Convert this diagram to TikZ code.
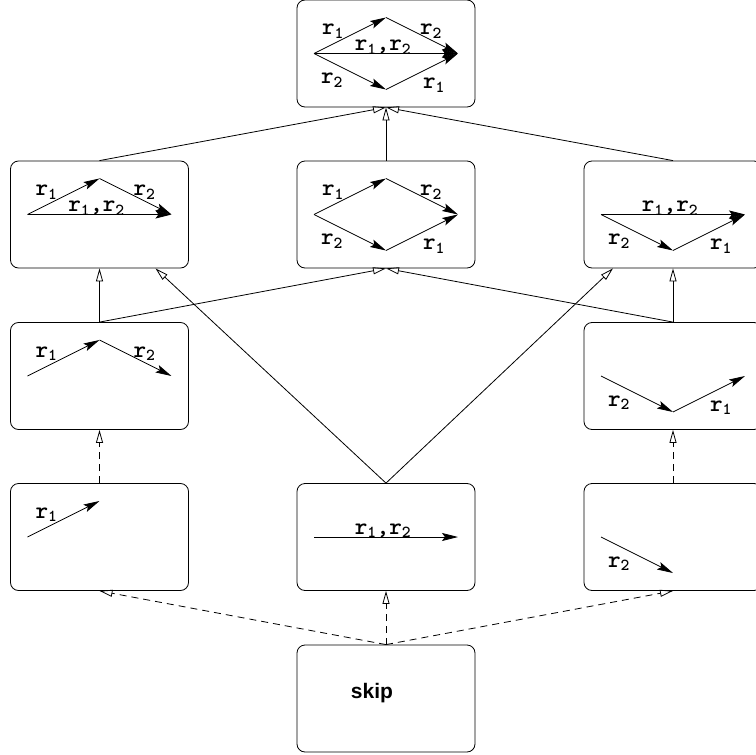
\documentclass[tikz,border=0pt]{standalone}
\usepackage{fontspec}
\usepackage{tikz}
\usetikzlibrary{arrows.meta,calc}
\setsansfont{Liberation Sans}
\newcommand{\rlab}[1]{r\textsubscript{#1}}

\begin{document}
\begin{tikzpicture}[x=1pt,y=-1pt,
    box/.style={draw, rounded corners=8pt, minimum width=178pt, minimum height=107pt, inner sep=0pt, line width=0.8pt},
    vec/.style={line width=0.8pt, -{Stealth[length=16pt,width=8pt,inset=3pt]}},
    up/.style={line width=0.8pt, -{Triangle[open,length=13pt,width=7pt]}},
    dashline/.style={dash pattern=on 7pt off 5pt},
    lbl/.style={font={\ttfamily\bfseries\addfontfeatures{FakeBold=1.5}\fontsize{24}{26}\selectfont}, anchor=base, inner sep=0pt}]
    \useasboundingbox (0,0) rectangle (756,755);

    % Boxes of the lattice
    \node[box] (top) at (386,53.5) {};
    \node[box] (twoL) at (99.5,214.5) {};
    \node[box] (twoM) at (386,214.5) {};
    \node[box] (twoR) at (673,214.5) {};
    \node[box] (threeL) at (99.5,376) {};
    \node[box] (threeR) at (673,376) {};
    \node[box] (oneL) at (99.5,537) {};
    \node[box] (oneM) at (386,537) {};
    \node[box] (oneR) at (673,537) {};
    \node[box] (skip) at (386,698.5) {};
    \node[font={\sffamily\bfseries\fontsize{21}{24}\selectfont}, anchor=base] (skiptext) at (372,698) {skip};

    % r1 first, upper path
    \foreach \b in {top,twoL,twoM,threeL,oneL}{
      \begin{scope}[shift={(\b.center)}]
        \draw[vec] (-72,0) -- (0,-36);
        \node[lbl] (\b-a) at (-53,-19) {\rlab1};
      \end{scope}}
    % then r2
    \foreach \b in {top,twoL,twoM,threeL}{
      \begin{scope}[shift={(\b.center)}]
        \draw[vec] (0,-36) -- (72,0);
        \node[lbl] (\b-b) at (45,-19) {\rlab2};
      \end{scope}}
    % r2 first, lower path
    \foreach \b in {top,twoM,twoR,threeR,oneR}{
      \begin{scope}[shift={(\b.center)}]
        \draw[vec] (-72,0) -- (0,36);
        \node[lbl] (\b-c) at (-54,30) {\rlab2};
      \end{scope}}
    % then r1
    \foreach \b in {top,twoM,twoR,threeR}{
      \begin{scope}[shift={(\b.center)}]
        \draw[vec] (0,36) -- (72,0);
        \node[lbl] (\b-d) at (48,35) {\rlab1};
      \end{scope}}
    % both at once
    \foreach \b in {top,twoL,twoR,oneM}{
      \begin{scope}[shift={(\b.center)}]
        \draw[vec] (-72,0) -- (72,0);
        \node[lbl] (\b-e) at (-3,-3) {\rlab1,\rlab2};
      \end{scope}}

    % Order between boxes
    \foreach \b in {twoL,twoM,twoR} \draw[up] (\b.north) -- (top.south);
    \draw[up] (threeL.north) -- (twoL.south);
    \draw[up] (threeL.north) -- (twoM.south);
    \draw[up] (threeR.north) -- (twoM.south);
    \draw[up] (threeR.north) -- (twoR.south);
    \coordinate (twoLin) at ($(twoL.south)+(56,0)$);
    \coordinate (twoRin) at ($(twoR.south)+(-60,0)$);
    \draw[up] (oneM.north) -- (twoLin);
    \draw[up] (oneM.north) -- (twoRin);

    % Dashed ones
    \draw[up, dashline] (oneL.north) -- (threeL.south);
    \draw[up, dashline] (oneR.north) -- (threeR.south);
    \foreach \b in {oneL,oneM,oneR} \draw[up, dashline] (skip.north) -- (\b.south);
\end{tikzpicture}
\end{document}
